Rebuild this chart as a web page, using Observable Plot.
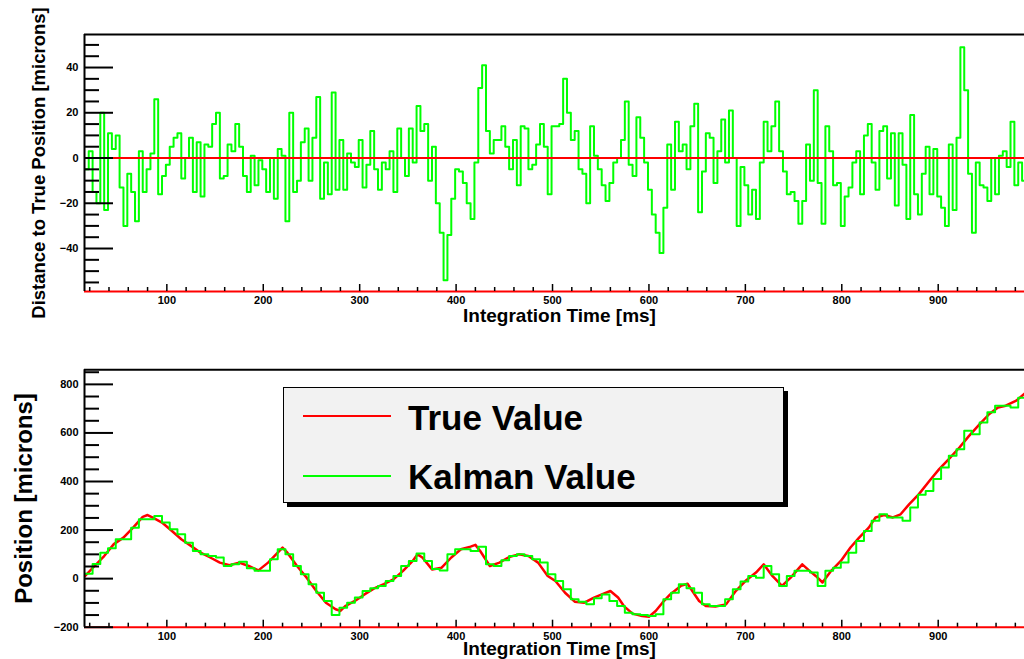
<!DOCTYPE html>
<html>
<head>
<meta charset="utf-8">
<script src="https://cdn.jsdelivr.net/npm/d3@7"></script>
<script src="https://cdn.jsdelivr.net/npm/@observablehq/plot@0.6"></script>
<style>
  body { margin: 0; background: #fff; }
  #wrap { position: relative; width: 1024px; height: 659px; overflow: hidden; background: #fff;
          font-family: "Liberation Sans", Arial, Helvetica, sans-serif; }
  #wrap svg { position: absolute; left: 0; display: block; }
  .lg-box { position: absolute; left: 283px; top: 387px; width: 499px; height: 114px;
            background: #f2f2f2; border: 1.5px solid #000; box-shadow: 4px 4px 0 #000; }
  .lg-line { position: absolute; left: 303px; width: 88px; height: 2px; }
  .lg-text { position: absolute; left: 408px; font-size: 35px; line-height: 35px; font-weight: bold; color: #000; white-space: nowrap; }
</style>
</head>
<body>
<div id="wrap"></div>
<script>
// ---------- DATA ----------
// Top panel: Kalman - True (microns), histogram bins of 4 ms starting at 15 ms
const deltaBinStart = 15;
const deltaBinWidth = 4;
const deltaValues = [
  -5, 3, -15, -20, 20, -23, 11, 4, 10, -13, -30, -7, -15, -28, 3, -15, -5, 2, 26, -16,
  -8, -3, 5, 9, 11, -9, 0, 9, -15, 7, -17, 6, 5, 15, 20, -9, -8, 6, 3, 15,
  5, -8, -15, 1, -12, -1, -5, -15, 0, -18, 4, 1, -28, 20, -15, -10, 7, 13, -10, 9, 27,
  -18, -2, -16, 29, -14, 8, -14, 2, -2, -4, 8, -13, -3, 12, -5, -14, -2, -5, 3, -15,
  13, 0, -8, 13, -2, 23, 12, 15, -10, 5, -20, -33, -54, -34, -18, -5, -6, -11, -20, -27,
  -2, 31, 41, 12, 2, 8, 8, 14, 5, -5, 8, -12, 14, 13, -5, -3, 6, 15, 5, -16, 14,
  14, 15, 35, 20, 8, 12, -5, -7, -20, 14, 1, -5, -12, -19, -11, -2, 0, 8, 25, -3,
  -8, 18, 9, -2, -14, -25, -33, -42, -22, 6, -14, 16, 3, 6, -5, 14, 24, -24, -6, 11,
  9, -11, 3, 17, -2, 21, 0, -30, -4, -12, -25, -14, -27, -2, 16, 3, 14, 25, 3, -6, -16,
  -15, -19, -29, -19, 6, -10, 30, -11, -29, 14, 3, -12, -11, -30, -17, -13, -2, 3, -16, 10,
  15, -2, -14, 12, 14, -9, 11, -21, 11, -3, -27, 19, -16, -25, -7, 5, -16, 4, -17, -22,
  -30, 6, -23, 9, 49, 30, -7, -33, -2, -12, -13, -19, 0, -16, 1, 3, -4, 16, -12, -2, -10
];

// Bottom panel: true position (microns)
const trueTime = [15,25,35,45,55,65,75,80,85,95,105,115,125,135,145,155,165,175,185,195,
  205,215,220,225,235,245,255,265,275,280,285,295,305,315,325,335,345,355,360,365,
  375,385,395,405,415,420,425,435,445,455,465,475,485,495,503,513,523,533,543,553,
  560,568,574,583,593,600,607,614,622,633,640,645,652,659,669,680,690,700,711,719,
  728,738,747,759,766,773,780,789,799,809,818,828,835,844,853,861,870,880,891,901,
  911,922,932,943,953,962,970,981,991];
const trueValue = [10,52,93,142,169,210,254,262,252,231,197,162,135,107,87,66,55,66,52,34,
  66,107,128,107,52,4,-51,-99,-126,-133,-113,-92,-65,-40,-23,-3,32,73,100,87,
  38,45,87,121,132,139,114,52,66,89,100,93,66,11,-10,-58,-95,-99,-78,-62,
  -51,-78,-113,-144,-154,-157,-133,-99,-65,-30,-21,-51,-92,-113,-115,-106,-51,-10,25,59,
  11,-30,4,59,34,11,-16,32,73,128,169,210,252,262,252,265,307,348,403,451,
  492,540,588,636,678,705,712,733,767];

// Bottom panel: Kalman estimate (microns), histogram bins of 8 ms starting at 15 ms
const kalmanBinStart = 15;
const kalmanBinWidth = 8;
const kalmanValues = [
  20, 60, 107, 125, 162, 162, 210, 245, 245, 258, 231, 203, 183, 148, 114, 100, 93, 87, 52, 59,
  70, 43, 32, 32, 80, 121, 100, 52, 18, -23, -58, -92, -150, -120, -99, -78, -51, -40, -30, -10,
  11, 52, 73, 103, 73, 40, 34, 100, 121, 121, 114, 131, 59, 52, 76, 93, 100, 93, 80, 66, 18,
  -10, -44, -85, -95, -106, -81, -65, -92, -113, -140, -147, -150, -154, -147, -85, -58, -23, -40, -58, -106,
  -113, -113, -85, -44, -12, 11, 4, 52, 18, -30, 11, 32, 32, 25, -30, 32, 45, 66, 107, 155,
  196, 238, 265, 252, 252, 238, 293, 345, 361, 410, 458, 506, 533, 609, 595, 643, 685, 712, 712, 705, 745
];

// Axes
const xDomain = [14.6, 989.5];
const xMajor = [100, 200, 300, 400, 500, 600, 700, 800, 900];
const topYDomain = [-59, 54.6];
const topYMajor = [-40, -20, 0, 20, 40];
const topYMinor = [-55,-50,-45,-35,-30,-25,-15,-10,-5,5,10,15,25,30,35,45,50];
const botYDomain = [-200, 860];
const botYMajor = [-200, 0, 200, 400, 600, 800];
const botYMinor = [-150,-100,-50,50,100,150,250,300,350,450,500,550,650,700,750,850];

const xLabel = "Integration Time [ms]";
const topYLabel = "Distance to True Position [microns]";
const botYLabel = "Position [microns]";
const legendLabels = ["True Value", "Kalman Value"];

// ---------- BUILD ----------
const GREEN = "#00ff00", RED = "#ff0000";
const FONT = '"Liberation Sans", Arial, Helvetica, sans-serif';
const xMinor = d3.range(20, 1000, 20).filter(d => d % 100 !== 0);

function bins(start, width, values) {
  const rows = values.map((v, i) => ({t: start + i * width, v}));
  rows.push({t: start + values.length * width, v: values[values.length - 1]});
  return rows;
}
const deltaData = bins(deltaBinStart, deltaBinWidth, deltaValues);
const kalmanData = bins(kalmanBinStart, kalmanBinWidth, kalmanValues);
const trueData = trueTime.map((t, i) => ({t, v: trueValue[i]}));

const blank = () => "";
function axes(yMajor, yMinor) {
  return [
    Plot.axisY(yMinor, {tickSize: -15, strokeWidth: 2, tickFormat: blank, label: null}),
    Plot.axisY(yMajor, {tickSize: -29, strokeWidth: 2, tickFormat: blank, label: null}),
    Plot.axisY(yMajor, {tickSize: 0, tickPadding: 6, label: null, fontSize: 11, fontWeight: "bold"}),
    Plot.axisX(xMinor, {anchor: "bottom", tickSize: -4, strokeWidth: 1.5, tickFormat: blank, label: null}),
    Plot.axisX(xMajor, {anchor: "bottom", tickSize: -7, strokeWidth: 1.5, tickFormat: blank, label: null}),
    Plot.axisX(xMajor, {anchor: "bottom", tickSize: 0, tickPadding: 5, label: null, fontSize: 11, fontWeight: "bold"})
  ];
}
function xTitle(dy) {
  return Plot.text([xLabel], {text: d => d, frameAnchor: "bottom", textAnchor: "middle", lineAnchor: "middle",
    dy, dx: 5, fontSize: 19, fontWeight: "bold"});
}
function yTitle(label, dx, size) {
  return Plot.text([label], {text: d => d, frameAnchor: "left", textAnchor: "middle", lineAnchor: "middle",
    dx, rotate: -90, fontSize: size, fontWeight: "bold"});
}
const style = {fontFamily: FONT, fontWeight: "bold", fontSize: "11px", color: "#000", background: "transparent", overflow: "visible"};

const topChart = Plot.plot({
  width: 1024, height: 335,
  marginLeft: 84, marginRight: 0, marginTop: 34, marginBottom: 44,
  x: {domain: xDomain, axis: null},
  y: {domain: topYDomain, axis: null},
  style,
  marks: [
    Plot.line(deltaData, {x: "t", y: "v", curve: "step-after", stroke: GREEN, strokeWidth: 2, clip: true}),
    Plot.ruleY([0], {stroke: RED, strokeWidth: 2}),
    Plot.ruleY([topYDomain[1]], {stroke: "#000", strokeWidth: 2}),
    Plot.ruleY([topYDomain[0]], {stroke: RED, strokeWidth: 2}),
    Plot.ruleX([xDomain[0]], {stroke: "#000", strokeWidth: 2}),
    ...axes(topYMajor, topYMinor),
    xTitle(24),
    yTitle(topYLabel, -45, 18.5)
  ]
});
topChart.style.top = "0px";

const bottomChart = Plot.plot({
  width: 1024, height: 324,
  marginLeft: 84, marginRight: 0, marginTop: 34.3, marginBottom: 32.3,
  x: {domain: xDomain, axis: null},
  y: {domain: botYDomain, axis: null},
  style,
  marks: [
    Plot.line(trueData, {x: "t", y: "v", stroke: RED, strokeWidth: 2.5, clip: true}),
    Plot.line(kalmanData, {x: "t", y: "v", curve: "step-after", stroke: GREEN, strokeWidth: 2, clip: true}),
    Plot.ruleY([botYDomain[1]], {stroke: "#000", strokeWidth: 2}),
    Plot.ruleY([botYDomain[0]], {stroke: RED, strokeWidth: 2}),
    Plot.ruleX([xDomain[0]], {stroke: "#000", strokeWidth: 2}),
    ...axes(botYMajor, botYMinor),
    xTitle(21.5),
    yTitle(botYLabel, -60, 24)
  ]
});
bottomChart.style.top = "335px";

const wrap = document.getElementById("wrap");
wrap.appendChild(topChart);
wrap.appendChild(bottomChart);

// Legend
const box = document.createElement("div");
box.className = "lg-box";
wrap.appendChild(box);
[[RED, 415], [GREEN, 475]].forEach(([c, y], i) => {
  const ln = document.createElement("div");
  ln.className = "lg-line";
  ln.style.top = y + "px";
  ln.style.background = c;
  wrap.appendChild(ln);
  const tx = document.createElement("div");
  tx.className = "lg-text";
  tx.style.top = (i === 0 ? 399.7 : 458.7) + "px";
  tx.textContent = legendLabels[i];
  wrap.appendChild(tx);
});
</script>
</body>
</html>
